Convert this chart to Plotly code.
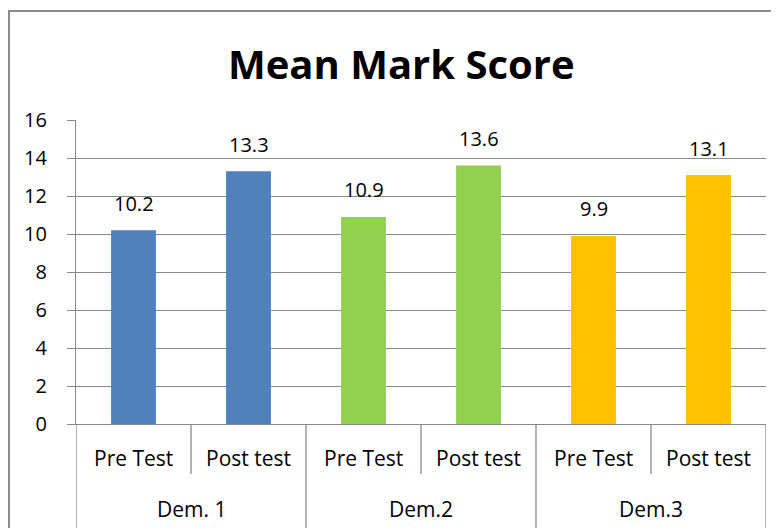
import plotly.graph_objects as go

groups = ["Dem. 1", "Dem.2", "Dem.3"]
tests = ["Pre Test", "Post test"]
values = [10.2, 13.3, 10.9, 13.6, 9.9, 13.1]
colors = ["#4F81BD", "#4F81BD", "#92D050", "#92D050", "#FFC000", "#FFC000"]
y_ticks = [0, 2, 4, 6, 8, 10, 12, 14, 16]

OFF = 8  # page offset of the figure (body margin)
W, H = 779 - OFF, 528 - OFF
L, R, T, B = 76 - OFF, 766 - OFF, 120 - OFF, 424 - OFF
FONT = "Open Sans"
GRID = "#888888"

def px(x):  # page pixel -> paper
    return (x - OFF - L) / (R - L)

def py(y):
    return (B - (y - OFF)) / (B - T)

xs = list(range(len(values)))
labels = [f"{v:.1f}" for v in values]

fig = go.Figure(go.Bar(
    x=xs, y=values, marker=dict(color=colors, line=dict(width=0)),
    width=0.39, hoverinfo="skip",
))

shapes = []
annotations = []
# chart border
shapes.append(dict(type="rect", xref="paper", yref="paper",
                   x0=px(9), x1=px(800), y0=py(560), y1=py(11),
                   line=dict(color="#8c8c8c", width=2), layer="below"))
# category dividers
n = len(values)
for i in range(n + 1):
    xb = i - 0.5
    long = (i % 2 == 0)
    shapes.append(dict(type="line", xref="x", yref="paper", x0=xb, x1=xb,
                       y0=py(424), y1=py(560 if long else 474),
                       line=dict(color=GRID, width=1.3)))
# data labels
for i, (v, t) in enumerate(zip(values, labels)):
    annotations.append(dict(x=i, y=v, xref="x", yref="y", text=t,
                            showarrow=False, yanchor="middle", yshift=27,
                            font=dict(family=FONT, size=20, color="black")))
for i in range(n):
    annotations.append(dict(x=i, y=py(458), xref="x", yref="paper",
                            text=tests[i % 2], showarrow=False,
                            yanchor="middle",
                            font=dict(family=FONT, size=21, color="black")))
for g, name in enumerate(groups):
    annotations.append(dict(x=2 * g + 0.5, y=py(509), xref="x", yref="paper",
                            text=name, showarrow=False, yanchor="middle",
                            font=dict(family=FONT, size=21, color="black")))
annotations.append(dict(x=px(401), y=py(63), xref="paper", yref="paper",
                        text="<b>Mean Mark Score</b>", showarrow=False,
                        yanchor="middle",
                        font=dict(family=FONT, size=40, color="black")))

fig.update_layout(
    width=W, height=H,
    margin=dict(l=L, r=W - R, t=T, b=H - B, pad=0),
    paper_bgcolor="white", plot_bgcolor="white",
    showlegend=False, shapes=shapes, annotations=annotations,
    xaxis=dict(range=[-0.5, n - 0.5], showticklabels=False, showgrid=False,
               zeroline=False, showline=True, linecolor=GRID, linewidth=1.3,
               ticks="", fixedrange=True),
    yaxis=dict(range=[0, 16], tickvals=y_ticks, showgrid=True,
               gridcolor=GRID, gridwidth=1.3, zeroline=False,
               showline=True, linecolor=GRID, linewidth=1.3,
               ticks="outside", ticklen=8, tickcolor=GRID, tickwidth=1.3,
               ticklabelstandoff=16, fixedrange=True,
               tickfont=dict(family=FONT, size=20, color="black")),
)

fig.write_html("out.html")
